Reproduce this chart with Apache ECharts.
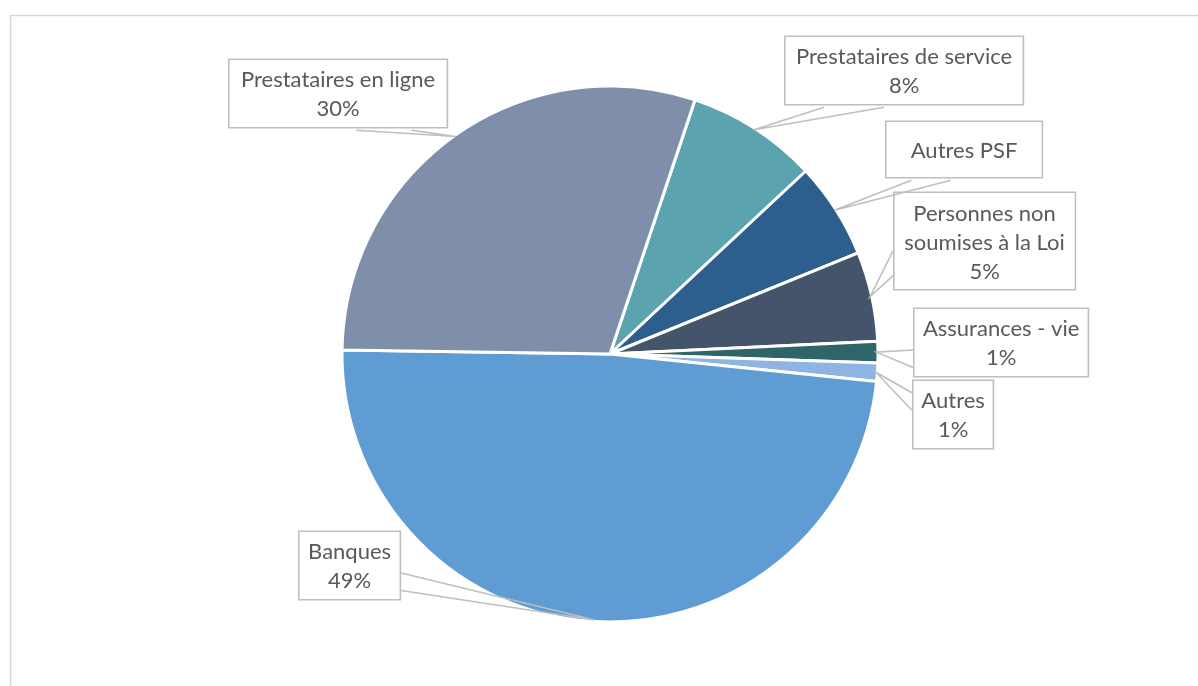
<!DOCTYPE html>
<html>
<head>
<meta charset="utf-8">
<script src="https://cdn.jsdelivr.net/npm/echarts@6/dist/echarts.min.js"></script>
<style>
html,body{margin:0;padding:0;background:#fff;}
#chart{width:1198px;height:686px;}
</style>
</head>
<body>
<div id="chart"></div>
<script>
// ---- data (clockwise from the slice after the top) ----
var categories = [
  'Prestataires de service',
  'Autres PSF',
  'Personnes non\nsoumises à la Loi',
  'Assurances - vie',
  'Autres',
  'Banques',
  'Prestataires en ligne'
];
var values = [7.9, 5.8, 5.4, 1.3, 1.1, 48.6, 29.9];
var showPercent = [true, false, true, true, true, true, true];
var colors = ['#5BA3AE', '#2D5F8E', '#44546A', '#2F6468', '#8DB4E2', '#5F9CD3', '#7F8FA9'];

// ---- label callout boxes: [left, top, outerWidth, padTop, padBottom] ----
var labelBoxes = [
  [784, 37, 239, 5, 4],
  [885, 122, 157, 14, 12],
  [893, 193, 182, 6, 3],
  [913, 309, 175, 5, 4],
  [912, 381, 81, 5, 4],
  [298, 532, 102, 5, 4],
  [228, 60, 219, 5, 4]
];

var TEXT = '#595959', LINE = '#BFBFBF';

function wedge(rect, tip) {
  var cx = rect.x + rect.width / 2, cy = rect.y + rect.height / 2;
  var dx = tip[0] - cx, dy = tip[1] - cy;
  var dq = dx * rect.height / rect.width;
  var f1, f2;
  if (Math.abs(dy) > Math.abs(dq)) {
    var ey = dy > 0 ? rect.y + rect.height : rect.y;
    f1 = dx > 0 ? 7 / 12 : 2 / 12; f2 = dx > 0 ? 10 / 12 : 5 / 12;
    return [[rect.x + rect.width * f1, ey], tip, [rect.x + rect.width * f2, ey]];
  } else {
    var ex = dx > 0 ? rect.x + rect.width : rect.x;
    f1 = dy > 0 ? 7 / 12 : 2 / 12; f2 = dy > 0 ? 10 / 12 : 5 / 12;
    return [[ex, rect.y + rect.height * f1], tip, [ex, rect.y + rect.height * f2]];
  }
}

var CX = 610, CY = 354, R = 268, START = 71.5;

// tip of each callout: middle of the slice's outer arc (from the data)
function sliceTip(i) {
  var sum = values.reduce(function (a, c) { return a + c; }, 0), acc = 0;
  for (var k = 0; k < i; k++) acc += values[k];
  var mid = (START - (acc + values[i] / 2) / sum * 360) * Math.PI / 180;
  return [CX + (R - 1.5) * Math.cos(mid), CY - (R - 1.5) * Math.sin(mid)];
}

var data = categories.map(function (name, i) {
  var b = labelBoxes[i];
  return {
    name: name,
    value: values[i],
    itemStyle: { color: colors[i] },
    label: { width: b[2] - 2, padding: [b[3], 0, b[4], 0] }
  };
});

var wedges = [];

var frame = {
  type: 'rect', id: 'frame',
  shape: { x: 10.5, y: 15.5, width: 1300, height: 800 },
  style: { fill: 'none', stroke: '#D9D9D9', lineWidth: 1.5 },
  silent: true
};

var chart = echarts.init(document.getElementById('chart'), null, { renderer: 'canvas' });
chart.setOption({
  animation: false,
  backgroundColor: '#fff',
  graphic: [frame],
  series: [{
    type: 'pie',
    center: [CX, CY],
    radius: [0, R],
    startAngle: START,
    clockwise: true,
    avoidLabelOverlap: false,
    itemStyle: { borderColor: '#fff', borderWidth: 3 },
    data: data,
    label: {
      show: true,
      position: 'outside',
      color: TEXT,
      fontFamily: 'Lato',
      fontSize: 22,
      lineHeight: 29,
      align: 'center',
      backgroundColor: '#fff',
      borderColor: LINE,
      borderWidth: 1.6,
      overflow: 'none',
      formatter: function (p) {
        var i = p.dataIndex;
        return showPercent[i] ? p.name + '\n' + Math.round(p.percent) + '%' : p.name;
      }
    },
    labelLine: { show: false },
    labelLayout: function (p) {
      var b = labelBoxes[p.dataIndex];
      var w = p.labelRect.width, h = p.labelRect.height;
      var rect = { x: b[0], y: b[1], width: w, height: h };
      wedges[p.dataIndex] = wedge(rect, sliceTip(p.dataIndex));
      return {
        x: b[0] + w / 2,
        y: b[1],
        align: 'center',
        verticalAlign: 'top'
      };
    }
  }]
});

// callout pointers drawn above the slices
var pointerGraphics = [frame];
wedges.forEach(function (pts, i) {
  if (!pts) return;
  pointerGraphics.push({
    type: 'polyline', id: 'wedge' + i, z: 100, silent: true,
    shape: { points: pts },
    style: { stroke: LINE, lineWidth: 1.6, fill: null, lineJoin: 'miter' }
  });
});
chart.setOption({ graphic: pointerGraphics });
</script>
</body>
</html>
